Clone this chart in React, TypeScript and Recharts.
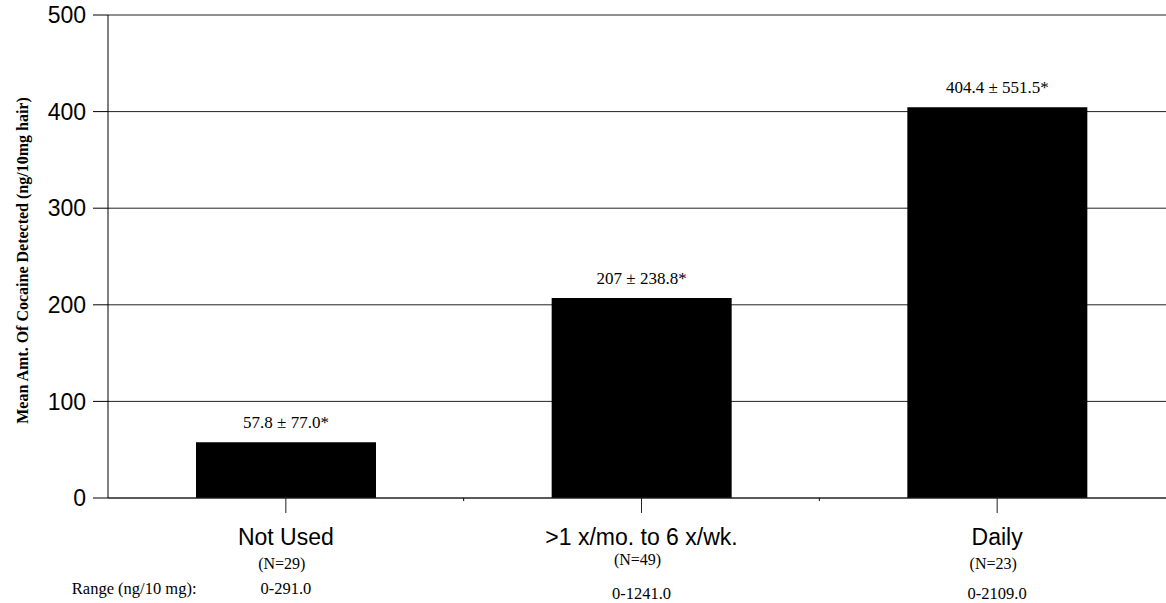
import React from 'react'
import { BarChart, Bar, XAxis, YAxis, CartesianGrid, LabelList, Label } from 'recharts'

// Frequency of use groups
const categories = ['Not Used', '>1 x/mo. to 6 x/wk.', 'Daily']
const meanAmounts = [57.8, 207, 404.4]
const meanLabels = ['57.8 ± 77.0*', '207 ± 238.8*', '404.4 ± 551.5*']
const sampleSizes = ['(N=29)', '(N=49)', '(N=23)']
const ranges = ['0-291.0', '0-1241.0', '0-2109.0']
const yTicks = [0, 100, 200, 300, 400, 500]

// vertical offsets of the sub lines under each category (they are not aligned in the original)
const nLineDy = [56, 52, 56]
const rangeLineDy = [81, 86, 86]

const SANS = '"Liberation Sans", Arial, sans-serif'
const SERIF = '"Liberation Serif", "Times New Roman", serif'

const chartData = categories.map((name, i) => ({
  name,
  value: meanAmounts[i],
  label: meanLabels[i],
}))

function CategoryTick(props: any) {
  const { x, y, payload, index } = props
  const half = payload?.offset && payload.offset > 50 ? payload.offset : 177.8
  return (
    <g>
      {/* small boundary mark between categories */}
      {index > 0 && (
        <line x1={x - half} x2={x - half} y1={y - 15} y2={y - 12} stroke="#000" strokeWidth={1} />
      )}
      <text x={x} y={y} dy={32} textAnchor="middle" fontFamily={SANS} fontSize={23} fill="#000">
        {payload.value}
      </text>
      <text x={x - 4} y={y} dy={nLineDy[index]} textAnchor="middle" fontFamily={SERIF} fontSize={16} fill="#000">
        {sampleSizes[index]}
      </text>
      <text x={x} y={y} dy={rangeLineDy[index]} textAnchor="middle" fontFamily={SERIF} fontSize={16.5} fill="#000">
        {ranges[index]}
      </text>
      {index === 0 && (
        <text x={x - 214} y={y} dy={rangeLineDy[index]} textAnchor="start" fontFamily={SERIF} fontSize={16.5} fill="#000">
          Range (ng/10 mg):
        </text>
      )}
    </g>
  )
}

function YTitle(props: any) {
  const { viewBox } = props
  const cx = 22
  const cy = viewBox.y + viewBox.height / 2 + 4
  return (
    <text
      x={cx}
      y={cy}
      transform={`rotate(-90 ${cx} ${cy})`}
      textAnchor="middle"
      dominantBaseline="central"
      fontFamily={SERIF}
      fontWeight="bold"
      fontSize={16}
      fill="#000"
    >
      Mean Amt.  Of Cocaine Detected (ng/10mg hair)
    </text>
  )
}

export default function App() {
  return (
    <div
      style={{
        position: 'absolute',
        left: 0,
        top: 0,
        width: 1166,
        height: 603,
        overflow: 'hidden',
        background: '#fff',
      }}
    >
      <BarChart
        width={1180}
        height={603}
        data={chartData}
        margin={{ top: 15, right: 5, left: 0, bottom: 0 }}
      >
        <CartesianGrid vertical={false} stroke="#222" strokeWidth={1} />
        <XAxis
          dataKey="name"
          height={105}
          axisLine={{ stroke: '#222' }}
          tickLine={{ stroke: '#222' }}
          tickSize={15}
          tickMargin={0}
          interval={0}
          tick={<CategoryTick />}
        />
        <YAxis
          width={108}
          domain={[0, 500]}
          ticks={yTicks}
          axisLine={{ stroke: '#000' }}
          tickLine={{ stroke: '#000' }}
          tickSize={15}
          tickMargin={7}
          tick={{ fill: '#000', fontSize: 23, fontFamily: SANS }}
        >
          <Label content={<YTitle />} />
        </YAxis>
        <Bar dataKey="value" fill="#000" barSize={180} isAnimationActive={false}>
          <LabelList
            dataKey="label"
            position="top"
            offset={14}
            fill="#000"
            fontSize={17}
            fontFamily={SERIF}
          />
        </Bar>
      </BarChart>
    </div>
  )
}
